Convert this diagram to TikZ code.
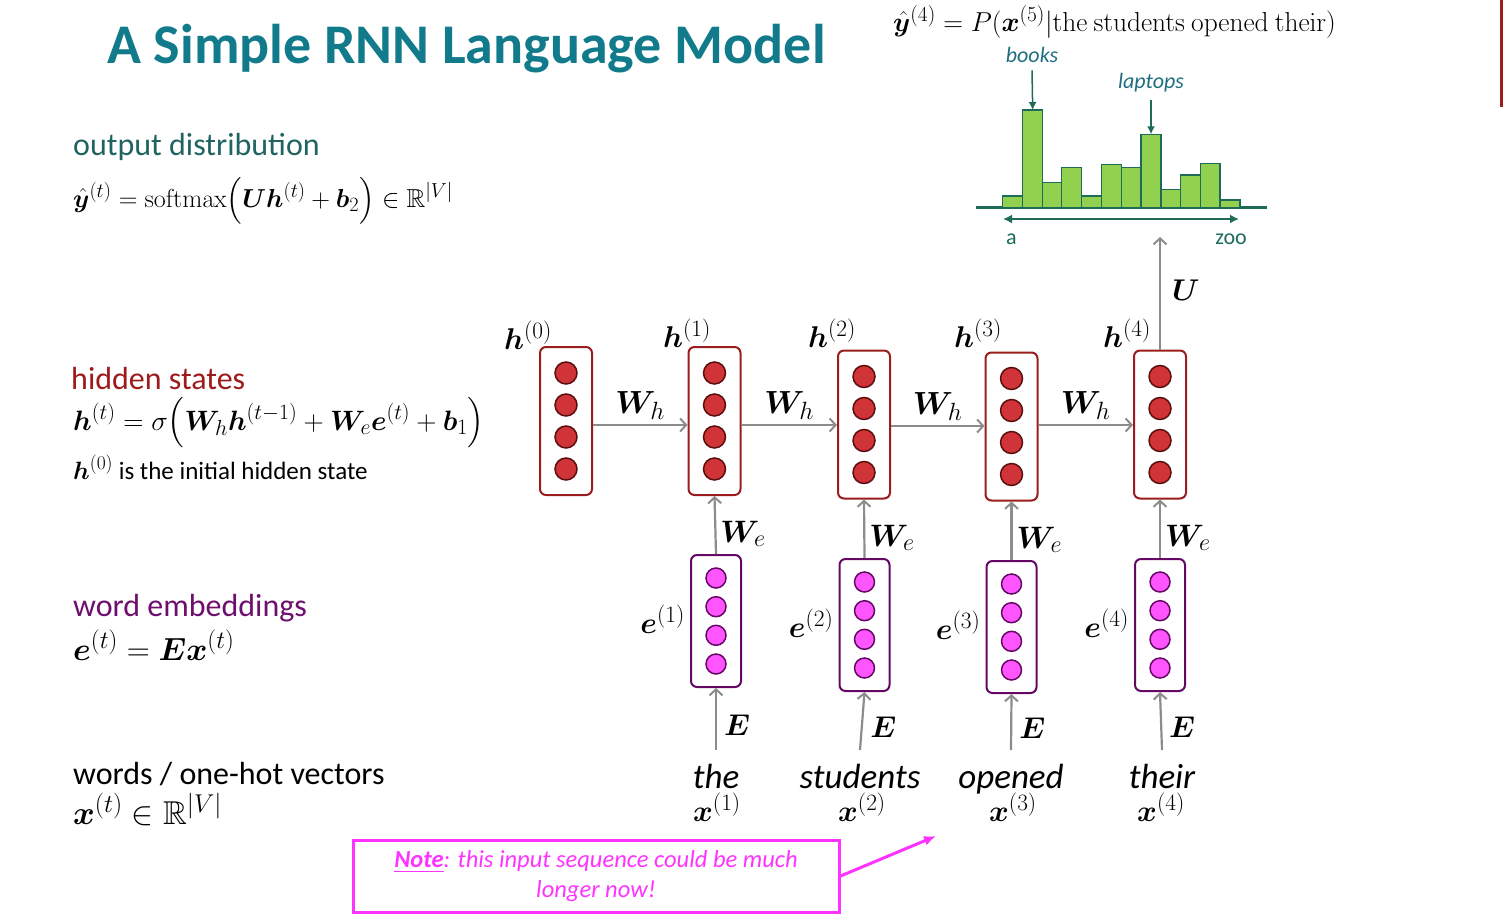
\RequirePackage{fix-cm}
\documentclass[tikz,border=0pt]{standalone}
\usepackage{amsmath,amssymb,bm}
\usepackage[no-math]{fontspec}
\setmainfont{Carlito}
\usetikzlibrary{arrows.meta}
\makeatletter
\def\defaultscriptratio{.78}
\def\defaultscriptscriptratio{.6}
\makeatother
\definecolor{titleteal}{HTML}{117A8B}
\definecolor{outteal}{HTML}{1F6462}
\definecolor{hidred}{HTML}{9E1B1B}
\definecolor{embpurp}{HTML}{6E0E6E}
\definecolor{hboxc}{HTML}{9B1C1C}
\definecolor{hdotc}{HTML}{D13438}
\definecolor{hdotb}{HTML}{5A0E0E}
\definecolor{eboxc}{HTML}{650865}
\definecolor{edotc}{HTML}{FF55FF}
\definecolor{arrg}{HTML}{8C8C8C}
\definecolor{barg}{HTML}{92D050}
\definecolor{barb}{HTML}{1E6B5A}
\definecolor{labteal}{HTML}{1F6F80}
\definecolor{notec}{HTML}{FF33FF}
\definecolor{edgered}{HTML}{9B1B1B}
\newcommand{\fs}[1]{\fontsize{#1}{#1}\selectfont}
\newcommand{\thickul}[1]{\underline{\smash{#1}}}
\tikzset{
  hbox/.style={draw=hboxc, line width=2pt, rounded corners=6pt, minimum width=52pt, minimum height=148pt, inner sep=0pt},
  ebox/.style={draw=eboxc, line width=2pt, rounded corners=6pt, minimum width=50pt, minimum height=132pt, inner sep=0pt},
  hdot/.style={circle, fill=hdotc, draw=hdotb, line width=1.5pt, minimum size=22pt, inner sep=0pt},
  edot/.style={circle, fill=edotc, draw=eboxc, line width=1.5pt, minimum size=20pt, inner sep=0pt},
  conn/.style={draw=arrg, line width=2.2pt, -{Straight Barb[length=6pt,width=13pt,line width=2pt]}},
  mlab/.style={font=\fs{30}, inner sep=1pt},
  head/.style={font=\fs{32}, anchor=base west, inner sep=0pt},
  eq/.style={font=\fs{27}, anchor=base west, inner sep=0pt},
  word/.style={font=\fs{35}\itshape, anchor=base, inner sep=0pt},
  bar/.style={fill=barg, draw=barb, line width=1.5pt},
  hlab/.style={font=\fs{22}\itshape, text=labteal, anchor=base, inner sep=0pt}
}
\begin{document}
\begin{tikzpicture}[x=1pt,y=-1pt]
\useasboundingbox (0,0) rectangle (1503,913);
% title
\node[anchor=base west, inner sep=0pt, text=titleteal, font=\fs{56}\bfseries] (title) at (107,63) {A Simple RNN Language Model};
\draw[edgered, line width=3pt] (1501,0) -- (1501,107);

% left descriptions
\node[head, text=outteal] (hout) at (73,155) {output distribution};
\node[eq, font=\fs{26}] (eqout) at (73,207) {$\hat{\bm y}^{(t)} = \mathrm{softmax}\Bigl(\bm U\bm h^{(t)} + \bm b_2\Bigr) \in \mathbb{R}^{|V|}$};
\node[head, text=hidred] (hhid) at (71,389) {hidden states};
\node[eq, font=\fs{28}] (eqhid) at (73,430) {$\bm h^{(t)} = \sigma\Bigl(\bm W_h \bm h^{(t-1)} + \bm W_e \bm e^{(t)} + \bm b_1\Bigr)$};
\node[eq, font=\fs{25}] (hinit) at (73,479) {$\bm h^{(0)}$ is the initial hidden state};
\node[head, text=embpurp] (hemb) at (73,616) {word embeddings};
\node[eq, font=\fs{32}] (eqemb) at (73,660) {$\bm e^{(t)} = \bm E\bm x^{(t)}$};
\node[head, text=black] (hwords) at (73,784) {words / one-hot vectors};
\node[eq, font=\fs{33}] (eqwords) at (73,824) {$\bm x^{(t)} \in \mathbb{R}^{|V|}$};

% hidden states
\foreach \i/\x/\y in {0/566/421, 1/714.5/421, 2/864/424.5, 3/1011.5/426.5, 4/1160/424.5}{
  \node[hbox] (h\i) at (\x,\y) {};
  \foreach \k/\d in {a/-48, b/-16, c/16, d/48}
    \node[hdot] (h\i\k) at (\x,\y+\d) {};
}
% embeddings
\foreach \i/\x/\y in {1/716/621, 2/864.5/625, 3/1011.5/627, 4/1160/625}{
  \node[ebox] (e\i) at (\x,\y) {};
  \foreach \k/\d in {a/-43, b/-14.3, c/14.3, d/43}
    \node[edot] (e\i\k) at (\x,\y+\d) {};
}
% h labels
\node[mlab, anchor=center] (lh0) at (528,335) {$\bm h^{(0)}$};
\node[mlab, anchor=center] (lh1) at (687,333) {$\bm h^{(1)}$};
\node[mlab, anchor=center] (lh2) at (832,333) {$\bm h^{(2)}$};
\node[mlab, anchor=center] (lh3) at (978,333) {$\bm h^{(3)}$};
\node[mlab, anchor=center] (lh4) at (1127,333) {$\bm h^{(4)}$};
% e labels
\foreach \i in {1,2,3,4}
  \node[mlab, anchor=east] (le\i) at ([xshift=-4pt,yshift=2pt]e\i.west) {$\bm e^{(\i)}$};

% horizontal arrows
\draw[conn] (h0.east |- 0,425) -- node[mlab, above=3pt, font=\fs{32}] {$\bm W_h$} (h1.west |- 0,425);
\draw[conn] (h1.east |- 0,425) -- node[mlab, above=3pt, font=\fs{32}] {$\bm W_h$} (h2.west |- 0,425);
\draw[conn] (h2.east |- 0,426) -- node[mlab, above=3pt, font=\fs{32}] {$\bm W_h$} (h3.west |- 0,426);
\draw[conn] (h3.east |- 0,425) -- node[mlab, above=3pt, font=\fs{32}] {$\bm W_h$} (h4.west |- 0,425);

% words
\node[word] (w1) at (716,788) {the};
\node[word] (w2) at (860,788) {students};
\node[word] (w3) at (1011,788) {opened};
\node[word] (w4) at (1162,788) {their};
\foreach \i/\x in {1/717, 2/862, 3/1013, 4/1161}
  \node[mlab, anchor=base] (x\i) at (\x,821) {$\bm x^{(\i)}$};

\foreach \i in {1,2,3,4}{
  \draw[conn] (e\i.north) -- node[mlab, right=3pt, yshift=-9pt, font=\fs{31}] {$\bm W_e$} (h\i.south);
  \draw[conn] (w\i.north |- 0,750) -- node[mlab, right=6pt, yshift=-6pt] {$\bm E$} (e\i.south);
}

% output arrow
\coordinate (histin) at (1160,237);
\draw[conn] (h4.north) -- node[mlab, right=10pt, yshift=3pt] {$\bm U$} (histin);

% histogram
\draw[barb, line width=2.5pt] (976,207.5) -- (1267,207.5);
\foreach \l/\r/\t [count=\n] in {1002.7/1022.7/196, 1022.7/1042.7/110, 1042.7/1061.7/182.7, 1061.7/1081.7/167.7, 1081.7/1101.7/196, 1101.7/1121.7/164.3, 1121.7/1141/167.7, 1141/1161/134.3, 1161/1180.7/189.3, 1180.7/1200.7/175, 1200.7/1220/163.3, 1220/1240/200}
  \draw[bar] (\l,207.5) rectangle (\r,\t) coordinate (bt\n);
\coordinate (bar2top) at (1032.7,110);
\coordinate (bar8top) at (1151,134.3);
\coordinate (axl) at (1003,219);
\coordinate (axr) at (1239,219);
\draw[barb, line width=2pt, {Latex[length=9pt,width=9pt]}-{Latex[length=9pt,width=9pt]}] (axl) -- (axr);
\node[font=\fs{22}, text=barb, anchor=base, inner sep=0pt] (la) at (1011.5,244) {a};
\node[font=\fs{22}, text=barb, anchor=base, inner sep=0pt] (lz) at (1231,244) {zoo};
\node[hlab] (books) at (1032,62) {books};
\node[hlab] (laptops) at (1151,88) {laptops};
\draw[barb, line width=1.5pt, -{Latex[length=8pt,width=8pt]}] ([yshift=-8pt]books.south) -- (bar2top);
\draw[barb, line width=1.5pt, -{Latex[length=8pt,width=8pt]}] ([yshift=-8pt]laptops.south) -- (bar8top);

% top formula
\node[eq, font=\fs{27.4}] (ptop) at (893,31) {$\hat{\bm y}^{(4)} = P(\bm x^{(5)}|\mathrm{the\ students\ opened\ their})$};

% note
\node[draw=notec, line width=3pt, minimum width=486pt, minimum height=72pt, inner sep=0pt, align=center, text=notec, font=\fontsize{24.5}{30}\selectfont\itshape] (note) at (596,876)
  {\textbf{\underline{Note}}: this input sequence could be much\\ longer now!};
\coordinate (noteend) at (936,836);
\draw[notec, line width=3pt, -{Latex[length=12pt,width=10pt]}] (note.east) -- (noteend);
\end{tikzpicture}
\end{document}
